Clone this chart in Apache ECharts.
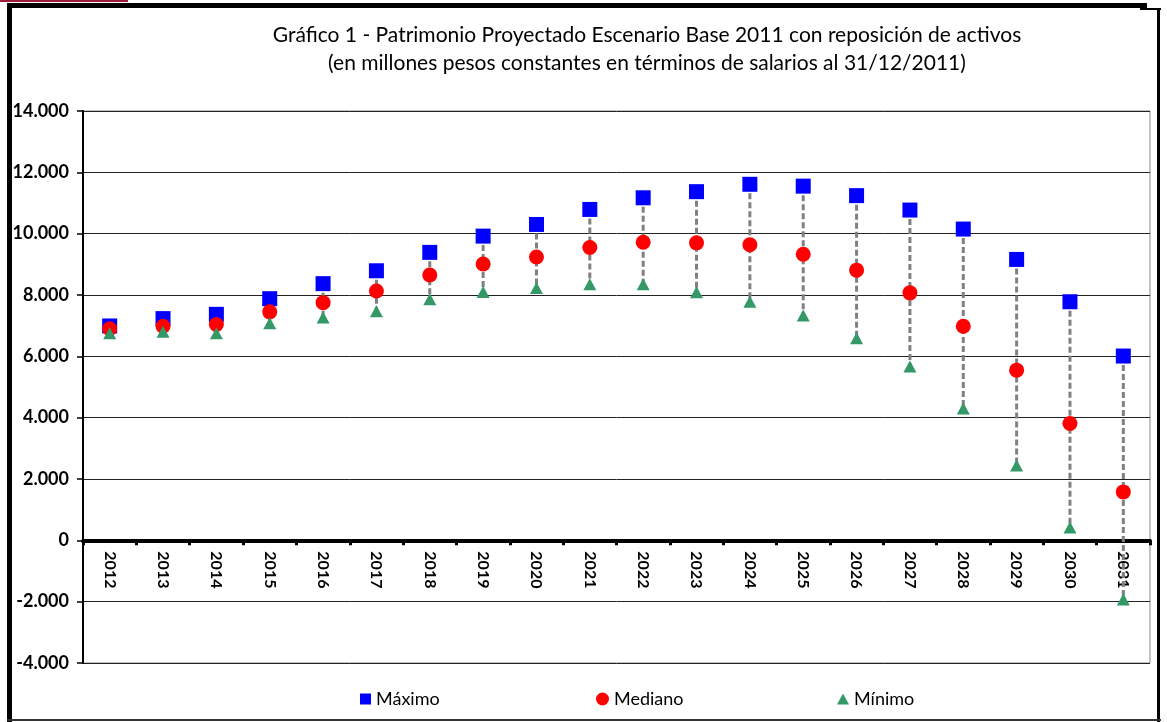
<!DOCTYPE html>
<html>
<head>
<meta charset="utf-8">
<script src="https://cdn.jsdelivr.net/npm/echarts@6/dist/echarts.min.js"></script>
<style>
  html, body { margin: 0; padding: 0; background: #fff; }
  #main { width: 1167px; height: 722px; }
</style>
</head>
<body>
<div id="main"></div>
<script>
// años proyectados
const years = ['2012', '2013', '2014', '2015', '2016', '2017', '2018', '2019', '2020', '2021',
  '2022', '2023', '2024', '2025', '2026', '2027', '2028', '2029', '2030', '2031']
// millones de pesos
const maximo = [6990, 7230, 7370, 7880, 8370, 8790, 9390, 9920, 10300, 10790,
  11170, 11370, 11610, 11550, 11240, 10770, 10150, 9160, 7780, 6010]
const mediano = [6900, 6980, 7040, 7450, 7750, 8130, 8650, 9010, 9240, 9550,
  9720, 9700, 9640, 9330, 8810, 8070, 6980, 5550, 3810, 1580]
const minimo = [6750, 6800, 6750, 7080, 7270, 7470, 7860, 8100, 8230, 8350,
  8350, 8090, 7780, 7330, 6590, 5670, 4300, 2440, 420, -1930]
const yTicks = [-4000, -2000, 0, 2000, 4000, 6000, 8000, 10000, 12000, 14000]

const font = 'Lato, "Open Sans", sans-serif'

// rango min-max por año, para la linea punteada
const rangeData = years.map((y, i) => [i, minimo[i], maximo[i]])

function fmt(v) {
  let s = Math.abs(v).toString().replace(/\B(?=(\d{3})+(?!\d))/g, '.')
  return (v < 0 ? '-' : '') + s
}

// el eje x va en el cero: se sube desde el borde inferior del grid
const gridTop = 111
const gridBottom = 59
const plotH = 722 - gridTop - gridBottom
const zeroOffset = -plotH * (0 - yTicks[0]) / (yTicks[yTicks.length - 1] - yTicks[0])

let myChart = echarts.init(document.getElementById('main'))
let option = {
  animation: false,
  backgroundColor: '#fff',
  textStyle: { fontFamily: font },
  title: {
    text: 'Gráfico 1 - Patrimonio Proyectado Escenario Base 2011 con reposición de activos\n(en millones pesos constantes en términos de salarios al 31/12/2011)',
    left: 642,
    top: 16,
    textAlign: 'center',
    textStyle: {
      fontFamily: font,
      fontSize: 21,
      fontWeight: 'normal',
      color: '#000',
      lineHeight: 28,
      align: 'center'
    }
  },
  graphic: [
    { type: 'rect', shape: { x: 0, y: 0, width: 128, height: 2 }, style: { fill: '#a01c3c' } },
    { type: 'rect', shape: { x: 7, y: 3, width: 1140, height: 5 }, style: { fill: '#000' } },
    { type: 'rect', shape: { x: 1140, y: 8, width: 21, height: 2 }, style: { fill: '#000' } },
    { type: 'rect', shape: { x: 7, y: 3, width: 5, height: 719 }, style: { fill: '#000' } },
    { type: 'rect', shape: { x: 1157, y: 8, width: 3, height: 714 }, style: { fill: '#000' } },
    { type: 'rect', shape: { x: 7, y: 719, width: 1154, height: 2 }, style: { fill: '#333' } }
  ],
  legend: [
    {
      left: 355, top: 685,
      data: [{ name: 'Máximo', icon: 'rect' }],
      itemWidth: 11, itemHeight: 11,
      textStyle: { fontFamily: font, fontSize: 18, color: '#000' }
    },
    {
      left: 591, top: 685,
      data: [{ name: 'Mediano', icon: 'circle' }],
      itemWidth: 13, itemHeight: 13,
      textStyle: { fontFamily: font, fontSize: 18, color: '#000' }
    },
    {
      left: 832, top: 685,
      data: [{ name: 'Mínimo', icon: 'triangle' }],
      itemWidth: 12, itemHeight: 11,
      textStyle: { fontFamily: font, fontSize: 18, color: '#000' }
    }
  ],
  grid: {
    left: 83,
    right: 17,
    top: gridTop,
    bottom: gridBottom,
    show: true,
    borderColor: '#888',
    borderWidth: 1,
    backgroundColor: '#fff'
  },
  xAxis: {
    type: 'category',
    data: years,
    offset: zeroOffset,
    axisLine: { onZero: false, lineStyle: { color: '#000', width: 4 } },
    axisTick: { show: true, alignWithLabel: false, length: 5, lineStyle: { color: '#000', width: 3 } },
    axisLabel: {
      rotate: -90,
      margin: 11,
      fontFamily: font,
      fontSize: 16,
      fontWeight: 'bold',
      color: '#000'
    },
    splitLine: { show: false }
  },
  yAxis: {
    type: 'value',
    min: -4000,
    max: 14000,
    interval: 2000,
    axisLine: { show: true, lineStyle: { color: '#000', width: 2 } },
    axisTick: { show: true, length: 6, lineStyle: { color: '#000', width: 1.5 } },
    axisLabel: {
      margin: 14,
      fontFamily: font,
      fontSize: 18,
      fontWeight: 'bold',
      color: '#000',
      formatter: v => yTicks.includes(v) ? fmt(v) : ''
    },
    splitLine: { show: true, lineStyle: { color: '#222', width: 1 } }
  },
  series: [
    {
      name: 'rango',
      type: 'custom',
      data: rangeData,
      z: 1,
      silent: true,
      renderItem: function (params, api) {
        let top = api.coord([api.value(0), api.value(2)])
        let bot = api.coord([api.value(0), api.value(1)])
        return {
          type: 'line',
          shape: { x1: top[0], y1: top[1], x2: bot[0], y2: bot[1] },
          style: { stroke: '#808080', lineWidth: 3, lineDash: [6, 3] }
        }
      }
    },
    {
      name: 'Máximo',
      type: 'scatter',
      symbol: 'rect',
      symbolSize: 15,
      z: 3,
      itemStyle: { color: '#0000ff', opacity: 1 },
      data: maximo
    },
    {
      name: 'Mediano',
      type: 'scatter',
      symbol: 'circle',
      symbolSize: 15,
      z: 4,
      itemStyle: { color: '#ff0000', opacity: 1 },
      data: mediano
    },
    {
      name: 'Mínimo',
      type: 'scatter',
      symbol: 'triangle',
      symbolSize: [13, 12],
      z: 5,
      itemStyle: { color: '#339966', opacity: 1 },
      data: minimo
    }
  ]
}
myChart.setOption(option)
</script>
</body>
</html>
